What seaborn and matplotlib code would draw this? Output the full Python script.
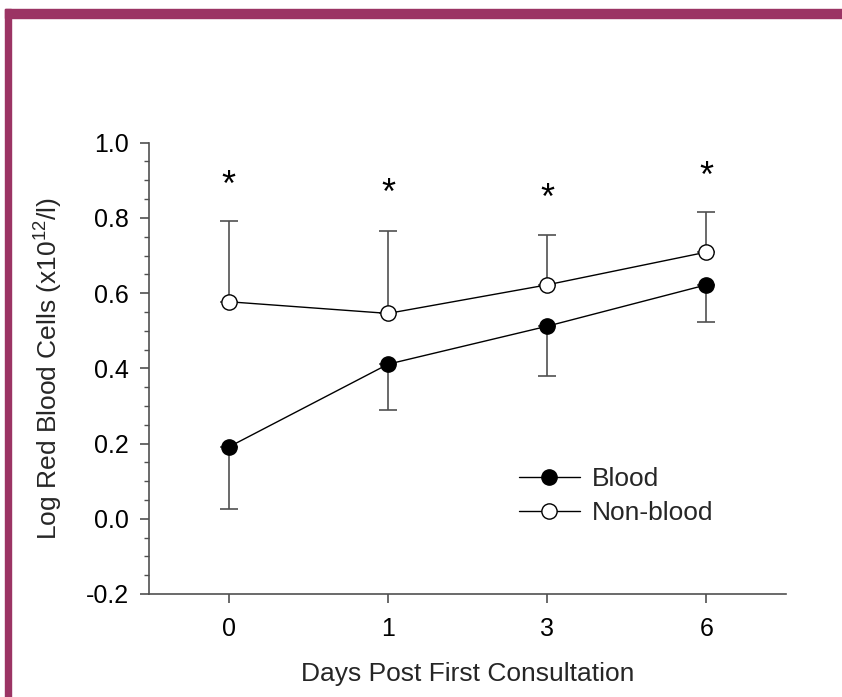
import matplotlib
matplotlib.use("Agg")
import matplotlib.pyplot as plt
import seaborn as sns
import pandas as pd
import numpy as np
from matplotlib.patches import Rectangle
from matplotlib.ticker import MultipleLocator

days = ["0", "1", "3", "6"]
blood_mean = [0.191, 0.411, 0.512, 0.622]
blood_lower = [0.026, 0.290, 0.380, 0.523]
nonblood_mean = [0.577, 0.546, 0.622, 0.709]
nonblood_upper = [0.793, 0.765, 0.754, 0.816]
star_y = [0.903, 0.880, 0.867, 0.927]
series_names = ["Blood", "Non-blood"]

sns.set_theme(style="ticks")
plt.rcParams['font.family'] = ['Liberation Sans', 'DejaVu Sans']
plt.rcParams['mathtext.fontset'] = 'custom'
plt.rcParams['mathtext.rm'] = 'Liberation Sans'
plt.rcParams['mathtext.it'] = 'Liberation Sans'

fig = plt.figure(figsize=(8.42, 6.97), dpi=100)
ax = fig.add_axes([0.1773, 0.1478, 0.9335 - 0.1773, 0.7953 - 0.1478])

pos = np.arange(len(days))
df = pd.DataFrame({
    "pos": np.concatenate([pos, pos]),
    "value": blood_mean + nonblood_mean,
    "group": [series_names[0]] * len(days) + [series_names[1]] * len(days),
})

err_color = "#505050"
ax.errorbar(pos, blood_mean,
            yerr=[np.array(blood_mean) - np.array(blood_lower), np.zeros(len(days))],
            fmt="none", ecolor=err_color, elinewidth=1.2, capsize=6.5, capthick=1.2, zorder=1)
ax.errorbar(pos, nonblood_mean,
            yerr=[np.zeros(len(days)), np.array(nonblood_upper) - np.array(nonblood_mean)],
            fmt="none", ecolor=err_color, elinewidth=1.2, capsize=6.5, capthick=1.2, zorder=1)

sns.lineplot(data=df[df.group == "Blood"], x="pos", y="value", ax=ax, color="black",
             linewidth=1.0, marker="o", markersize=11, markerfacecolor="black",
             markeredgecolor="black", markeredgewidth=1.0, label="Blood", zorder=3)
sns.lineplot(data=df[df.group == "Non-blood"], x="pos", y="value", ax=ax, color="black",
             linewidth=1.0, marker="o", markersize=11, markerfacecolor="white",
             markeredgecolor="black", markeredgewidth=1.0, label="Non-blood", zorder=3)

for p, s in zip(pos, star_y):
    ax.annotate("*", xy=(p, s), xytext=(0, -5), textcoords="offset points",
                ha="center", va="center", fontsize=26, color="black")

ax.set_xlim(-0.5, 3.5)
ax.set_ylim(-0.2, 1.0)
ax.set_xticks(pos)
ax.set_xticklabels(days)
ax.yaxis.set_minor_locator(MultipleLocator(0.05))
yt = np.round(np.arange(-0.2, 1.01, 0.2), 1)
ax.set_yticks(yt)
ax.set_yticklabels([f"{v:.1f}" for v in yt])
ax.set_ylim(-0.2, 1.0)

spine_color = "#505050"
for side in ["top", "right"]:
    ax.spines[side].set_visible(False)
for side in ["left", "bottom"]:
    ax.spines[side].set_color(spine_color)
    ax.spines[side].set_linewidth(1.2)
ax.tick_params(axis="both", which="major", direction="out", length=6.5, width=1.2,
               color=spine_color, labelsize=18, labelcolor="black", pad=8)
ax.tick_params(axis="y", which="minor", direction="out", length=3.5, width=1.0, color=spine_color)
ax.tick_params(axis="x", which="major", pad=10)

ax.set_xlabel("Days Post First Consultation", fontsize=19, labelpad=15)
ax.set_ylabel(r"Log Red Blood Cells (x10$^{12}$/l)", fontsize=19, labelpad=15)

leg = ax.legend(loc="upper left", bbox_to_anchor=(0.564, 0.305), frameon=False,
                fontsize=19, handlelength=2.3, handletextpad=0.45, labelspacing=0.4,
                borderaxespad=0)

ax.set_facecolor("white")
fig.patch.set_facecolor("white")

border = "#9b3464"
fig.patches.append(Rectangle((5 / 842, (697 - 17.7) / 697), 1.0, 8.7 / 697,
                             transform=fig.transFigure, color=border, zorder=10))
fig.patches.append(Rectangle((5 / 842, 0), 5.7 / 842, (697 - 9) / 697,
                             transform=fig.transFigure, color=border, zorder=10))

fig.savefig("out.png", dpi=100)
